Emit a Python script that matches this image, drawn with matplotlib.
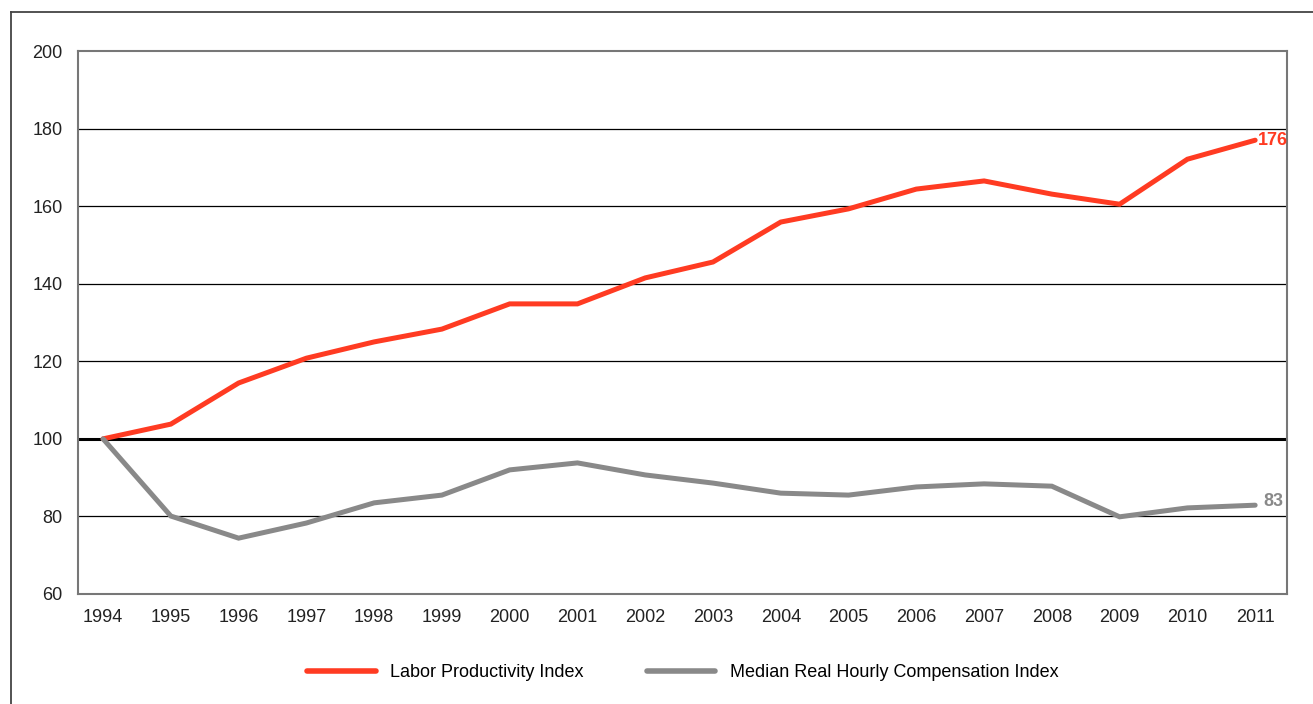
import numpy as np
from matplotlib import pyplot as plt
from matplotlib.lines import Line2D

years = list(range(1994, 2012))
productivity = [100, 103.8, 114.4, 120.8, 125.0, 128.3, 134.8, 134.8, 141.5, 145.6,
                155.9, 159.3, 164.4, 166.5, 163.1, 160.5, 172.1, 177.0]
compensation = [100, 80.1, 74.4, 78.3, 83.5, 85.5, 92.0, 93.8, 90.7, 88.6,
                86.0, 85.5, 87.6, 88.4, 87.8, 79.9, 82.2, 82.9]
end_labels = ['176', '83']
y_ticks = [60, 80, 100, 120, 140, 160, 180, 200]

red = '#ff3b22'
gray = '#898989'

plt.rcParams['font.family'] = ['Liberation Sans', 'DejaVu Sans']

fig = plt.figure(figsize=(13.13, 7.04), dpi=100)
ax = fig.add_axes([0.0594, 0.15625, 0.9208, 0.7713])

# outer frame (left and top only)
fig.add_artist(Line2D([0.0084, 0.0084], [0, 0.983], transform=fig.transFigure, color='#444444', lw=1.3))
fig.add_artist(Line2D([0.0084, 1.0], [0.983, 0.983], transform=fig.transFigure, color='#444444', lw=1.3))

for y in y_ticks[1:-1]:
    ax.axhline(y, color='black', lw=2.2 if y == 100 else 0.9, zorder=1)

ax.plot(years, productivity, color=red, lw=3.6, solid_capstyle='round', solid_joinstyle='miter', zorder=3)
ax.plot(years, compensation, color=gray, lw=3.6, solid_capstyle='round', solid_joinstyle='miter', zorder=3)

ax.text(years[-1] + 0.04, productivity[-1], end_labels[0], color=red, fontsize=13,
        fontweight='bold', va='center', ha='left')
ax.text(years[-1] + 0.12, compensation[-1] + 1, end_labels[1], color=gray, fontsize=13,
        fontweight='bold', va='center', ha='left')

ax.set_xlim(1993.63, 2011.47)
ax.set_ylim(60, 200)
ax.set_xticks(years)
ax.set_yticks(y_ticks)
ax.tick_params(length=0, labelsize=13, colors='#222222')
ax.tick_params(axis='y', pad=11)
ax.tick_params(axis='x', pad=11)
for s in ax.spines.values():
    s.set_color('#777777')
    s.set_linewidth(1.5)

handles = [Line2D([], [], color=red, lw=4, solid_capstyle='round'),
           Line2D([], [], color=gray, lw=4, solid_capstyle='round')]
fig.legend(handles, ['Labor Productivity Index', 'Median Real Hourly Compensation Index'],
           loc='center', bbox_to_anchor=(0.52, 0.045), ncol=2, frameon=False,
           prop={'size': 13}, handlelength=3.8, columnspacing=3.5,
           handletextpad=0.8)

plt.savefig('out.png', dpi=100)
